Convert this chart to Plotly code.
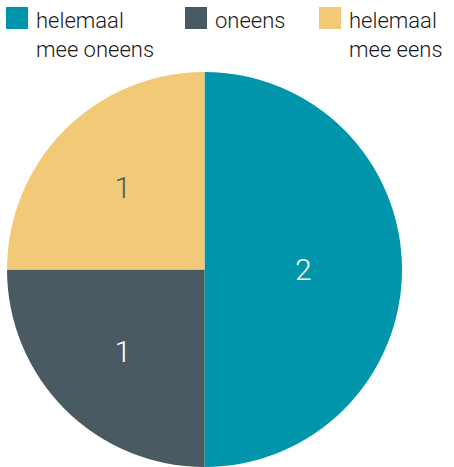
import plotly.graph_objects as go

labels = ["helemaal<br>mee oneens", "oneens", "helemaal<br>mee eens"]
values = [2, 1, 1]
colors = ["#0095AB", "#4A5A63", "#F2C977"]
text_colors = ["#FFFFFF", "#FFFFFF", "#4A5A63"]

FONT = "Roboto"

fig = go.Figure()
fig.add_trace(go.Pie(
    labels=labels,
    values=values,
    sort=False,
    direction="clockwise",
    rotation=0,
    marker=dict(colors=colors, line=dict(width=0)),
    textinfo="value",
    textposition="inside",
    insidetextorientation="horizontal",
    insidetextfont=dict(family=FONT, size=30, color=text_colors, weight=300),
    domain=dict(x=[7 / 454, 402 / 454], y=[0, 1 - 72 / 467]),
    showlegend=False,
    hoverinfo="label+value",
))

# legend drawn by hand so the swatches can be larger
legend_x = [6, 185, 319]
for lx, lab, col in zip(legend_x, labels, colors):
    fig.add_shape(type="rect", xref="paper", yref="paper",
                  x0=lx / 454, x1=(lx + 22) / 454,
                  y0=1 - 29 / 467, y1=1 - 7 / 467,
                  fillcolor=col, line=dict(width=0))
    fig.add_annotation(x=(lx + 28) / 454, y=1 - 6 / 467, xref="paper", yref="paper",
                       text=lab, showarrow=False, xanchor="left", yanchor="top",
                       align="left",
                       font=dict(family=FONT, size=22, color="#1A1A1A", weight=300))

fig.update_layout(
    width=454, height=467,
    margin=dict(l=0, r=0, t=0, b=0),
    paper_bgcolor="white",
    plot_bgcolor="white",
)
fig.write_html("out.html", config={"displayModeBar": False},
               post_script="document.body.style.margin='0';")
